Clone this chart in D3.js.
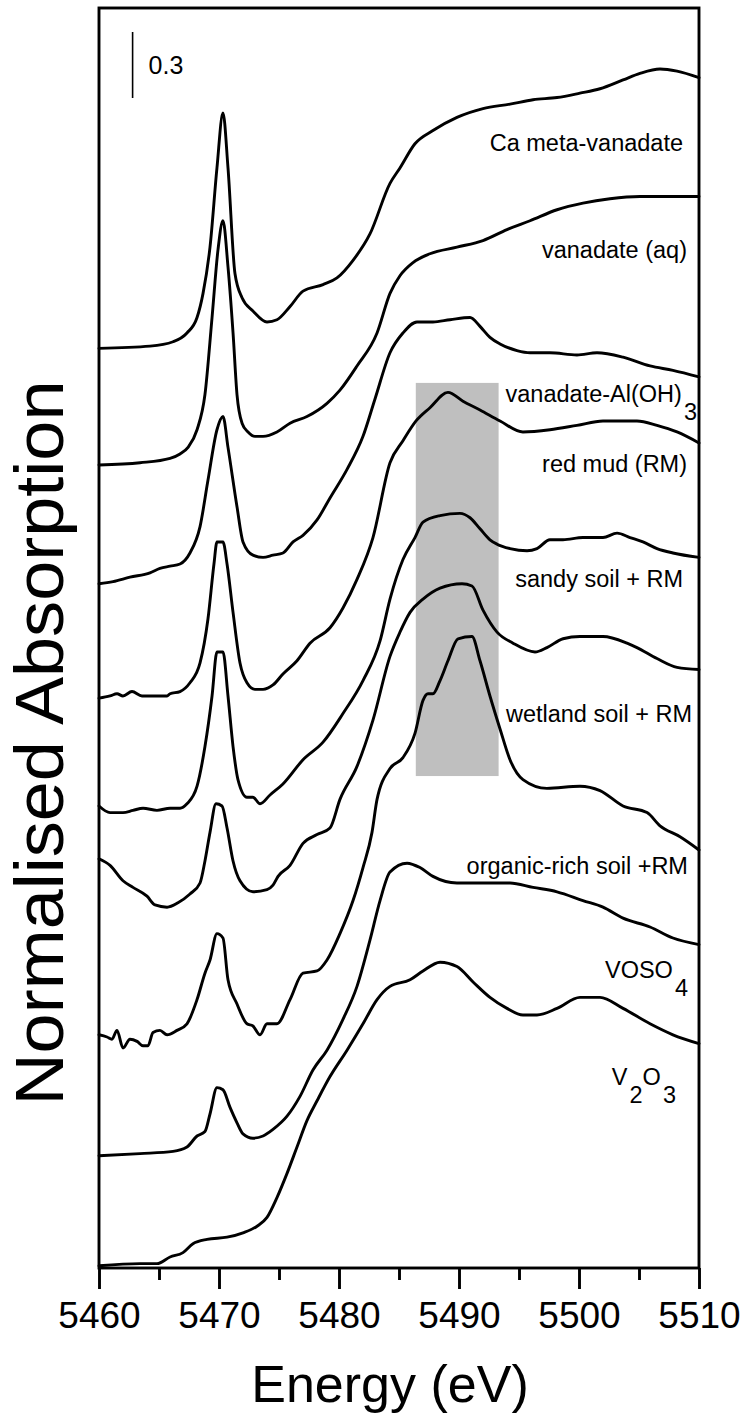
<!DOCTYPE html>
<html>
<head>
<meta charset="utf-8">
<script src="https://cdn.jsdelivr.net/npm/d3@7"></script>
<style>
  html, body { margin: 0; padding: 0; background: #fff; }
  svg { display: block; font-family: "Liberation Sans", Arial, Helvetica, sans-serif; }
</style>
</head>
<body>
<svg id="chart" width="744" height="1423"></svg>
<script>
// V K-edge XANES spectra, stacked with vertical offsets (normalised absorption units)
const energyTicks = [5460, 5470, 5480, 5490, 5500, 5510];
const minorTicks = [5465, 5475, 5485, 5495, 5505];

const seriesNames = [
  "Ca meta-vanadate", "vanadate (aq)", "vanadate-Al(OH)3", "red mud (RM)",
  "sandy soil + RM", "wetland soil + RM", "organic-rich soil +RM", "VOSO4", "V2O3"
];

const caMetaVanadate = [
  [5460, 4.18], [5464.25, 4.19], [5466.17, 4.21], [5467.33, 4.25], [5468.17, 4.32], [5468.67, 4.43],
  [5469.25, 4.64], [5469.83, 5.00], [5470.33, 5.25], [5470.75, 5.00], [5471.33, 4.52], [5471.92, 4.41],
  [5472.83, 4.35], [5474.0, 4.30], [5474.83, 4.31], [5475.92, 4.37], [5477.0, 4.44], [5478.67, 4.47],
  [5479.83, 4.50], [5481.17, 4.58], [5482.58, 4.70], [5484.25, 4.93], [5485.08, 5.00], [5486.33, 5.11],
  [5487.83, 5.17], [5489.83, 5.23], [5492.0, 5.27], [5494.25, 5.29], [5496.17, 5.31], [5498.17, 5.32],
  [5500.08, 5.34], [5501.75, 5.36], [5503.67, 5.40], [5505.08, 5.43], [5506.75, 5.45], [5508.17, 5.44],
  [5510, 5.41]
];

const vanadateAq = [
  [5460, 3.65], [5463.42, 3.66], [5465.92, 3.68], [5466.75, 3.70], [5467.42, 3.73], [5468.17, 3.81],
  [5468.83, 3.97], [5469.42, 4.32], [5469.92, 4.63], [5470.33, 4.76], [5470.75, 4.55], [5471.17, 4.25],
  [5471.5, 3.97], [5471.92, 3.84], [5472.42, 3.80], [5473.0, 3.78], [5473.67, 3.78], [5474.83, 3.80],
  [5475.92, 3.84], [5477.33, 3.87], [5479.0, 3.93], [5480.08, 3.99], [5481.5, 4.10], [5483.17, 4.25],
  [5484.25, 4.43], [5485.08, 4.51], [5486.17, 4.57], [5487.58, 4.61], [5489.83, 4.64], [5492.0, 4.67],
  [5494.0, 4.72], [5495.92, 4.76], [5498.17, 4.81], [5500.33, 4.84], [5502.58, 4.86], [5505.08, 4.87],
  [5507.33, 4.87], [5510, 4.87]
];

const vanadateAlOH3 = [
  [5460, 3.11], [5461.17, 3.12], [5462.58, 3.14], [5464.25, 3.16], [5465.08, 3.18], [5465.92, 3.19],
  [5466.75, 3.20], [5467.58, 3.25], [5468.42, 3.37], [5469.08, 3.58], [5469.83, 3.81], [5470.33, 3.87],
  [5470.75, 3.73], [5471.5, 3.46], [5472.0, 3.30], [5472.83, 3.24], [5473.67, 3.23], [5474.5, 3.24],
  [5475.33, 3.25], [5476.17, 3.30], [5477.0, 3.33], [5478.17, 3.40], [5479.25, 3.50], [5480.67, 3.63],
  [5482.0, 3.78], [5483.0, 3.95], [5484.25, 4.16], [5485.33, 4.25], [5486.5, 4.30], [5487.83, 4.30],
  [5489.25, 4.31], [5490.92, 4.32], [5491.75, 4.28], [5492.58, 4.23], [5493.42, 4.20], [5494.83, 4.17],
  [5495.92, 4.16], [5497.58, 4.16], [5499.83, 4.15], [5501.5, 4.16], [5503.67, 4.14], [5505.92, 4.10],
  [5507.83, 4.08], [5510, 4.05]
];

const redMud = [
  [5460, 2.59], [5460.92, 2.60], [5461.5, 2.61], [5462.0, 2.60], [5462.75, 2.62], [5463.58, 2.60],
  [5464.5, 2.60], [5465.67, 2.60], [5465.92, 2.61], [5466.75, 2.62], [5467.58, 2.66], [5468.42, 2.75],
  [5469.08, 2.95], [5469.58, 3.20], [5469.83, 3.30], [5470.33, 3.30], [5470.67, 3.20], [5471.17, 2.98],
  [5471.75, 2.75], [5472.33, 2.66], [5473.0, 2.63], [5473.67, 2.63], [5474.5, 2.65], [5475.33, 2.70],
  [5476.5, 2.76], [5477.58, 2.84], [5479.25, 2.91], [5480.33, 3.00], [5481.5, 3.13], [5482.83, 3.32],
  [5484.25, 3.66], [5485.33, 3.76], [5486.42, 3.85], [5487.58, 3.91], [5489.08, 3.98], [5490.33, 3.94],
  [5491.75, 3.90], [5493.42, 3.85], [5495.33, 3.80], [5497.58, 3.81], [5499.83, 3.83], [5502.0, 3.85],
  [5504.83, 3.85], [5506.5, 3.83], [5508.17, 3.80], [5510, 3.75]
];

const sandySoilRM = [
  [5460, 2.10], [5460.92, 2.07], [5462.0, 2.07], [5462.83, 2.08], [5463.67, 2.09], [5464.83, 2.08],
  [5465.92, 2.09], [5466.75, 2.09], [5467.33, 2.11], [5468.17, 2.19], [5468.83, 2.37], [5469.42, 2.60],
  [5469.83, 2.80], [5470.33, 2.80], [5470.75, 2.60], [5471.17, 2.37], [5471.58, 2.22], [5472.33, 2.14],
  [5472.83, 2.14], [5473.42, 2.11], [5474.25, 2.15], [5475.33, 2.20], [5477.0, 2.31], [5478.67, 2.39],
  [5480.33, 2.52], [5482.0, 2.67], [5483.42, 2.85], [5484.25, 3.04], [5485.33, 3.22], [5486.33, 3.32],
  [5487.0, 3.39], [5488.42, 3.42], [5490.08, 3.43], [5490.92, 3.41], [5491.75, 3.36], [5492.58, 3.31],
  [5493.17, 3.29], [5494.25, 3.27], [5495.67, 3.26], [5496.5, 3.27], [5497.58, 3.31], [5498.67, 3.31],
  [5500.33, 3.32], [5502.0, 3.32], [5503.17, 3.34], [5504.25, 3.32], [5505.33, 3.30], [5506.5, 3.27],
  [5507.83, 3.25], [5510, 3.23]
];

const wetlandSoilRM = [
  [5460, 1.86], [5460.92, 1.83], [5462.0, 1.76], [5462.83, 1.73], [5464.0, 1.69], [5464.67, 1.65],
  [5465.67, 1.64], [5466.58, 1.66], [5467.58, 1.70], [5468.42, 1.75], [5468.83, 1.85], [5469.25, 1.98],
  [5469.75, 2.11], [5470.25, 2.10], [5470.67, 2.00], [5471.17, 1.85], [5471.75, 1.76], [5472.83, 1.71],
  [5474.0, 1.72], [5474.5, 1.74], [5474.92, 1.78], [5475.92, 1.83], [5477.0, 1.93], [5478.17, 1.97],
  [5479.25, 2.00], [5480.08, 2.13], [5481.5, 2.28], [5482.83, 2.49], [5484.25, 2.78], [5485.08, 2.89],
  [5485.92, 2.98], [5487.0, 3.04], [5488.42, 3.09], [5490.25, 3.11], [5491.08, 3.10], [5492.0, 2.99],
  [5493.17, 2.89], [5494.5, 2.84], [5496.33, 2.80], [5497.33, 2.82], [5498.67, 2.86], [5500.08, 2.87],
  [5502.0, 2.87], [5504.0, 2.84], [5504.83, 2.82], [5506.5, 2.77], [5508.17, 2.73], [5510, 2.72]
];

const organicSoilRM = [
  [5460, 1.06], [5460.67, 1.05], [5461.08, 1.04], [5461.5, 1.08], [5462.0, 1.00], [5462.58, 1.04],
  [5463.17, 1.03], [5463.67, 1.01], [5464.08, 1.01], [5464.5, 1.07], [5465.08, 1.08], [5465.67, 1.06],
  [5466.5, 1.08], [5467.33, 1.11], [5468.17, 1.22], [5468.83, 1.34], [5469.25, 1.40], [5469.83, 1.52],
  [5470.33, 1.50], [5470.75, 1.31], [5471.5, 1.20], [5472.33, 1.11], [5472.83, 1.10], [5473.42, 1.06],
  [5474.0, 1.11], [5474.83, 1.11], [5475.92, 1.22], [5477.0, 1.34], [5478.17, 1.35], [5479.0, 1.40],
  [5480.08, 1.52], [5481.17, 1.67], [5482.0, 1.82], [5482.75, 1.98], [5483.17, 2.13], [5484.25, 2.27],
  [5485.33, 2.32], [5486.33, 2.43], [5487.0, 2.58], [5487.42, 2.61], [5487.83, 2.61], [5488.42, 2.67],
  [5489.08, 2.76], [5489.92, 2.86], [5491.08, 2.87], [5491.75, 2.76], [5492.58, 2.60], [5493.42, 2.45],
  [5494.25, 2.31], [5495.33, 2.22], [5497.33, 2.18], [5500.08, 2.19], [5501.75, 2.17], [5503.67, 2.10],
  [5505.67, 2.07], [5506.75, 2.01], [5508.42, 1.96], [5510, 1.90]
];

const voso4 = [
  [5460, 0.51], [5463.42, 0.52], [5466.17, 0.53], [5467.33, 0.55], [5468.17, 0.60], [5468.83, 0.62],
  [5469.25, 0.70], [5469.83, 0.82], [5470.33, 0.81], [5470.92, 0.73], [5471.5, 0.66], [5472.0, 0.61],
  [5472.83, 0.59], [5473.67, 0.60], [5474.5, 0.63], [5475.67, 0.69], [5476.75, 0.78], [5477.83, 0.90],
  [5479.0, 0.99], [5480.33, 1.13], [5481.5, 1.28], [5482.58, 1.49], [5483.42, 1.67], [5484.25, 1.80],
  [5485.67, 1.84], [5486.75, 1.82], [5487.83, 1.78], [5489.83, 1.75], [5492.0, 1.75], [5494.25, 1.75],
  [5496.17, 1.73], [5498.17, 1.71], [5500.33, 1.67], [5502.0, 1.64], [5503.67, 1.59], [5505.92, 1.55],
  [5507.83, 1.50], [5510, 1.47]
];

const v2o3 = [
  [5460, 0.01], [5463.42, 0.02], [5464.83, 0.02], [5465.92, 0.05], [5467.0, 0.07], [5467.83, 0.11],
  [5469.0, 0.13], [5470.67, 0.14], [5472.0, 0.16], [5473.17, 0.19], [5474.0, 0.23], [5474.83, 0.32],
  [5475.67, 0.43], [5476.5, 0.55], [5477.33, 0.67], [5478.17, 0.76], [5479.25, 0.87], [5480.67, 0.99],
  [5482.0, 1.11], [5483.17, 1.22], [5484.25, 1.28], [5485.92, 1.31], [5487.0, 1.35], [5488.42, 1.39],
  [5489.83, 1.37], [5491.17, 1.30], [5492.58, 1.23], [5494.0, 1.18], [5495.33, 1.15], [5496.5, 1.15],
  [5498.17, 1.18], [5500.08, 1.23], [5501.75, 1.23], [5503.67, 1.18], [5505.92, 1.11], [5507.83, 1.06],
  [5510, 1.02]
];

const spectra = [caMetaVanadate, vanadateAq, vanadateAlOH3, redMud, sandySoilRM,
                 wetlandSoilRM, organicSoilRM, voso4, v2o3];

// Highlighted energy window and scale bar (data units)
const bandEnergy = [5486.4, 5493.3];
const bandLevels = [2.236, 4.023];
const scaleBarEnergy = 5462.8;
const scaleBarBase = 5.318;
const scaleBarLength = 0.3;

// ---- layout ----
const plot = { left: 99, right: 699, top: 8, bottom: 1268 };
const svg = d3.select("#chart");

const x = d3.scaleLinear().domain([5460, 5510]).range([plot.left, plot.right]);
const y = d3.scaleLinear().domain([0, 5.727]).range([plot.bottom, plot.top]);

// shaded window
svg.append("rect")
  .attr("x", x(bandEnergy[0]))
  .attr("y", y(bandLevels[1]))
  .attr("width", x(bandEnergy[1]) - x(bandEnergy[0]))
  .attr("height", y(bandLevels[0]) - y(bandLevels[1]))
  .attr("fill", "#bfbfbf");

// spectra
const line = d3.line().curve(d3.curveMonotoneX).x(d => x(d[0])).y(d => y(d[1]));
svg.append("g").selectAll("path")
  .data(spectra)
  .join("path")
  .attr("d", line)
  .attr("fill", "none")
  .attr("stroke", "#000")
  .attr("stroke-width", 2.9)
  .attr("stroke-linejoin", "round")
  .attr("stroke-linecap", "round");

// frame
svg.append("rect")
  .attr("x", plot.left).attr("y", plot.top)
  .attr("width", plot.right - plot.left).attr("height", plot.bottom - plot.top)
  .attr("fill", "none").attr("stroke", "#000").attr("stroke-width", 2.9);

// bottom axis: major + minor ticks
const gMajor = svg.append("g").attr("transform", `translate(0,${plot.bottom})`)
  .call(d3.axisBottom(x).tickValues(energyTicks).tickSize(21).tickPadding(13).tickFormat(d3.format("d")));
gMajor.select(".domain").remove();
gMajor.selectAll(".tick line").attr("stroke", "#000").attr("stroke-width", 2.9);
gMajor.selectAll(".tick text")
  .attr("fill", "#000")
  .style("font-family", '"Liberation Sans", Arial, sans-serif')
  .style("font-size", "37px");

const gMinor = svg.append("g").attr("transform", `translate(0,${plot.bottom})`)
  .call(d3.axisBottom(x).tickValues(minorTicks).tickSize(12).tickFormat(""));
gMinor.select(".domain").remove();
gMinor.selectAll(".tick line").attr("stroke", "#000").attr("stroke-width", 2.9);

// axis titles
svg.append("text")
  .attr("x", 390)
  .attr("y", 1402)
  .attr("text-anchor", "middle")
  .style("font-size", "52px")
  .text("Energy (eV)");

// vertical title: drawn slightly elongated along its reading direction
svg.append("text")
  .attr("transform", "translate(63,743) rotate(-90) scale(1.06,1)")
  .attr("text-anchor", "middle")
  .style("font-size", "68px")
  .text("Normalised Absorption");

// scale bar
svg.append("line")
  .attr("x1", x(scaleBarEnergy)).attr("x2", x(scaleBarEnergy))
  .attr("y1", y(scaleBarBase)).attr("y2", y(scaleBarBase + scaleBarLength))
  .attr("stroke", "#000").attr("stroke-width", 1.6);
svg.append("text")
  .attr("x", x(scaleBarEnergy) + 16)
  .attr("y", y(scaleBarBase + scaleBarLength / 2) + 9)
  .style("font-size", "25px")
  .text(String(scaleBarLength));

// series labels: [right edge energy, baseline level]; chemical-formula digits drawn as subscripts
const labelAnchors = [
  [5508.67, 5.077], [5509.0, 4.591], [5509.83, 3.936], [5509.0, 3.618], [5508.67, 3.095],
  [5509.42, 2.482], [5509.08, 1.791], [5509.08, 1.318], [5508.08, 0.832]
];
function labelParts(name) {
  if (name === "vanadate-Al(OH)3") return [["vanadate-Al(OH)", false], ["3", true]];
  if (name === "VOSO4") return [["VOSO", false], ["4", true]];
  if (name === "V2O3") return [["V", false], ["2", true], ["O", false], ["3", true]];
  return [[name, false]];
}

const labels = svg.append("g").style("font-size", "23.5px");
seriesNames.forEach((name, i) => {
  const t = labels.append("text")
    .attr("x", x(labelAnchors[i][0]))
    .attr("y", y(labelAnchors[i][1]))
    .attr("text-anchor", "end");
  let lowered = false;
  labelParts(name).forEach(([s, sub]) => {
    const dy = sub && !lowered ? 18 : (!sub && lowered ? -18 : 0);
    lowered = sub;
    t.append("tspan").attr("dy", dy).attr("dx", sub ? 2 : 0).text(s);
  });
});
</script>
</body>
</html>
